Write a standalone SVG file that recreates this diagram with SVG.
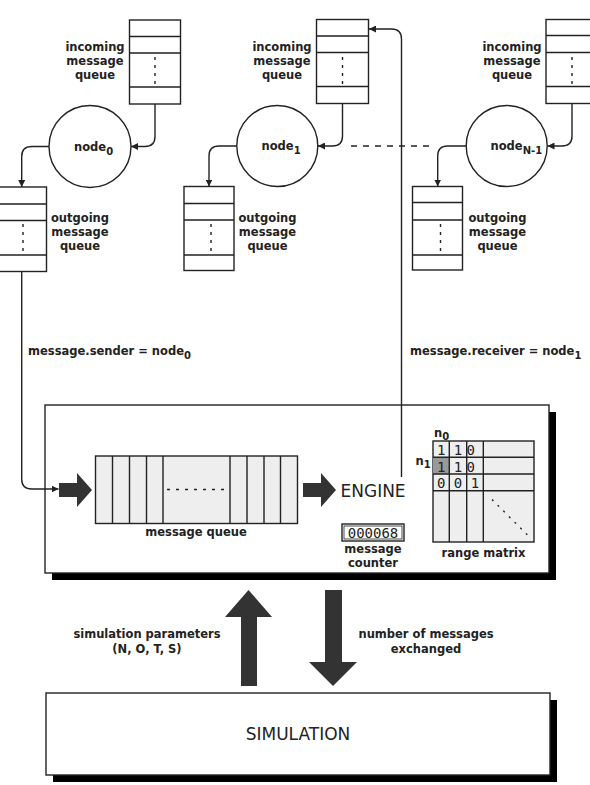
<svg xmlns="http://www.w3.org/2000/svg" width="590" height="785" viewBox="0 0 590 785">
<style>
.ln{fill:none;stroke:#222;stroke-width:1.4}
.box{fill:#fff;stroke:#222;stroke-width:1.4}
.dot{fill:none;stroke:#222;stroke-width:1.4;stroke-dasharray:3 5}
.lb{font-family:"DejaVu Sans",Verdana,sans-serif;font-weight:bold;font-size:11.5px;fill:#222}
.big{font-family:"DejaVu Sans",Verdana,sans-serif;font-size:17px;fill:#222}
.mono{font-family:"DejaVu Sans Mono","Liberation Mono",monospace;font-size:14px;fill:#222}
.gray{fill:#eeeeee;stroke:#222;stroke-width:1.4}
.blk{fill:#333}
</style>
<defs>
<marker id="ah" viewBox="0 0 10 10" refX="10" refY="5" markerWidth="7" markerHeight="7" markerUnits="userSpaceOnUse" orient="auto">
<path d="M0,0 L10,5 L0,10 z" fill="#222"/>
</marker>
</defs>

<!-- node 0 -->
<g id="node0">
<g id="in0">
<rect class="box" x="129.5" y="20" width="51" height="84"/>
<path class="ln" d="M129.5,36.5 H180.5 M129.5,53 H180.5 M129.5,87 H180.5"/>
<path class="dot" d="M155,57 V86"/>
<text class="lb" text-anchor="middle"><tspan x="95" y="51">incoming</tspan><tspan x="95" y="65">message</tspan><tspan x="95" y="79">queue</tspan></text>
</g>
<circle class="box" cx="90" cy="146.5" r="41"/>
<text class="lb" x="74" y="150.5">node<tspan dy="4" font-size="10">0</tspan></text>
<g id="out0">
<rect class="box" x="-3.5" y="187" width="50" height="84.5"/>
<path class="ln" d="M-3.5,204 H46.5 M-3.5,220.5 H46.5 M-3.5,255 H46.5"/>
<path class="dot" d="M23,224 V254"/>
<text class="lb" text-anchor="middle"><tspan x="80" y="222">outgoing</tspan><tspan x="80" y="236">message</tspan><tspan x="80" y="250">queue</tspan></text>
</g>
</g>

<!-- node 1 -->
<g id="node1">
<g id="in1">
<rect class="box" x="316.5" y="19.5" width="52" height="84"/>
<path class="ln" d="M316.5,36 H368.5 M316.5,52.5 H368.5 M316.5,86.5 H368.5"/>
<path class="dot" d="M342.5,57 V86"/>
<text class="lb" text-anchor="middle"><tspan x="282" y="51">incoming</tspan><tspan x="282" y="65">message</tspan><tspan x="282" y="79">queue</tspan></text>
</g>
<circle class="box" cx="277.3" cy="146" r="40.5"/>
<text class="lb" x="261.5" y="150">node<tspan dy="4" font-size="10">1</tspan></text>
<g id="out1">
<rect class="box" x="184" y="186.5" width="50" height="84"/>
<path class="ln" d="M184,203.5 H234 M184,220 H234 M184,255 H234"/>
<path class="dot" d="M211,224 V254"/>
<text class="lb" text-anchor="middle"><tspan x="267.5" y="222">outgoing</tspan><tspan x="267.5" y="236">message</tspan><tspan x="267.5" y="250">queue</tspan></text>
</g>
</g>

<!-- node N-1 -->
<g id="nodeN1">
<g id="inN1">
<rect class="box" x="546" y="19.5" width="52" height="84"/>
<path class="ln" d="M546,35.5 H598 M546,52.5 H598 M546,86.5 H598"/>
<path class="dot" d="M572,57 V86"/>
<text class="lb" text-anchor="middle"><tspan x="512" y="51">incoming</tspan><tspan x="512" y="65">message</tspan><tspan x="512" y="79">queue</tspan></text>
</g>
<circle class="box" cx="506.7" cy="146" r="40.5"/>
<text class="lb" x="490.5" y="150">node<tspan dy="4" font-size="10">N-1</tspan></text>
<g id="outN1">
<rect class="box" x="412.5" y="186.5" width="50" height="83.5"/>
<path class="ln" d="M412.5,202.5 H462.5 M412.5,220 H462.5 M412.5,255 H462.5"/>
<path class="dot" d="M440.5,224 V254"/>
<text class="lb" text-anchor="middle"><tspan x="497.5" y="222">outgoing</tspan><tspan x="497.5" y="236">message</tspan><tspan x="497.5" y="250">queue</tspan></text>
</g>
</g>

<!-- engine -->
<g id="engine">
<rect x="52" y="412" width="504" height="168" fill="#000"/>
<rect class="box" x="45" y="405" width="504" height="168"/>
<g id="mqueue">
<rect class="gray" x="95.5" y="456" width="202" height="67.5"/>
<path class="ln" d="M112.5,456 V523.5 M129.5,456 V523.5 M146.5,456 V523.5 M163,456 V523.5 M230,456 V523.5 M247,456 V523.5 M264,456 V523.5 M280.5,456 V523.5"/>
<path class="ln" d="M167,489.5 H228" stroke-dasharray="3 6"/>
<text class="lb" x="196" y="536" text-anchor="middle">message queue</text>
</g>
<polygon class="blk" points="59,483 77,483 77,473 92,490 77,507 77,497 59,497"/>
<polygon class="blk" points="303,483 321,483 321,473 336,490 321,507 321,497 303,497"/>
<text class="big" x="340.5" y="497">ENGINE</text>
<g id="counter">
<rect class="box" x="342" y="524" width="62" height="17"/>
<rect fill="none" stroke="#222" stroke-width="0.8" x="344" y="526" width="58" height="13"/>
<text class="mono" x="373" y="538" text-anchor="middle" font-size="13">000068</text>
<text class="lb" text-anchor="middle"><tspan x="373" y="553">message</tspan><tspan x="373" y="567">counter</tspan></text>
</g>
<g id="matrix">
<rect class="gray" x="433" y="441" width="101" height="101"/>
<rect x="433" y="457.3" width="16.3" height="16.7" fill="#999"/>
<path class="ln" d="M433,457.3 H534 M433,474 H534 M433,490.7 H534 M449.3,441 V542 M466.7,441 V542 M483.3,441 V542"/>
<path class="ln" d="M492,499.5 L530,537.5" stroke-dasharray="2 6"/>
<text class="mono" text-anchor="middle">
<tspan x="441.2" y="455">1</tspan><tspan x="458" y="455">1</tspan><tspan x="475" y="455">0</tspan>
<tspan x="441.2" y="471.5">1</tspan><tspan x="458" y="471.5">1</tspan><tspan x="475" y="471.5">0</tspan>
<tspan x="441.2" y="488.2">0</tspan><tspan x="458" y="488.2">0</tspan><tspan x="475" y="488.2">1</tspan>
</text>
<text class="lb" x="434" y="437">n<tspan dy="3" font-size="10">0</tspan></text>
<text class="lb" x="415.5" y="465">n<tspan dy="3" font-size="10">1</tspan></text>
<text class="lb" x="483.5" y="557" text-anchor="middle">range matrix</text>
</g>
</g>

<!-- simulation -->
<g id="simulation">
<rect x="53" y="700" width="504" height="82" fill="#000"/>
<rect class="box" x="46" y="693" width="504" height="82"/>
<text class="big" x="298" y="740" text-anchor="middle">SIMULATION</text>
</g>

<!-- connectors -->
<g id="connectors">
<path class="ln" d="M155,104 V136.5 Q155,146.5 145,146.5 H131" marker-end="url(#ah)"/>
<path class="ln" d="M49,146.5 H31.7 Q21.7,146.5 21.7,156.5 V187" marker-end="url(#ah)"/>
<path class="ln" d="M342.5,103.5 V136 Q342.5,146 332.5,146 H318" marker-end="url(#ah)"/>
<path class="ln" d="M236.8,146 H219 Q209,146 209,156 V186.5" marker-end="url(#ah)"/>
<path class="ln" d="M572,103.5 V136 Q572,146 562,146 H547.5" marker-end="url(#ah)"/>
<path class="ln" d="M466.2,146 H447.7 Q437.7,146 437.7,156 V186.5" marker-end="url(#ah)"/>
<path class="ln" d="M351,146 H432" stroke-dasharray="6 6"/>
<path class="ln" d="M21.7,271.5 V479 Q21.7,489 31.7,489 H58.5" marker-end="url(#ah)"/>
<path class="ln" d="M401.5,477 V39 Q401.5,29 391.5,29 H369" marker-end="url(#ah)"/>
<text class="lb" x="28" y="355">message.sender = node<tspan dy="4" font-size="10">0</tspan></text>
<text class="lb" x="410" y="355">message.receiver = node<tspan dy="4" font-size="10">1</tspan></text>
<polygon class="blk" points="248.5,590 272,617 257,617 257,686 241,686 241,617 225,617"/>
<polygon class="blk" points="325,590 342,590 342,662 357,662 333,686 309,662 325,662"/>
<text class="lb" text-anchor="middle"><tspan x="147" y="638">simulation parameters</tspan><tspan x="147" y="653">(N, O, T, S)</tspan></text>
<text class="lb" text-anchor="middle"><tspan x="426" y="638">number of messages</tspan><tspan x="426" y="653">exchanged</tspan></text>
</g>
</svg>
